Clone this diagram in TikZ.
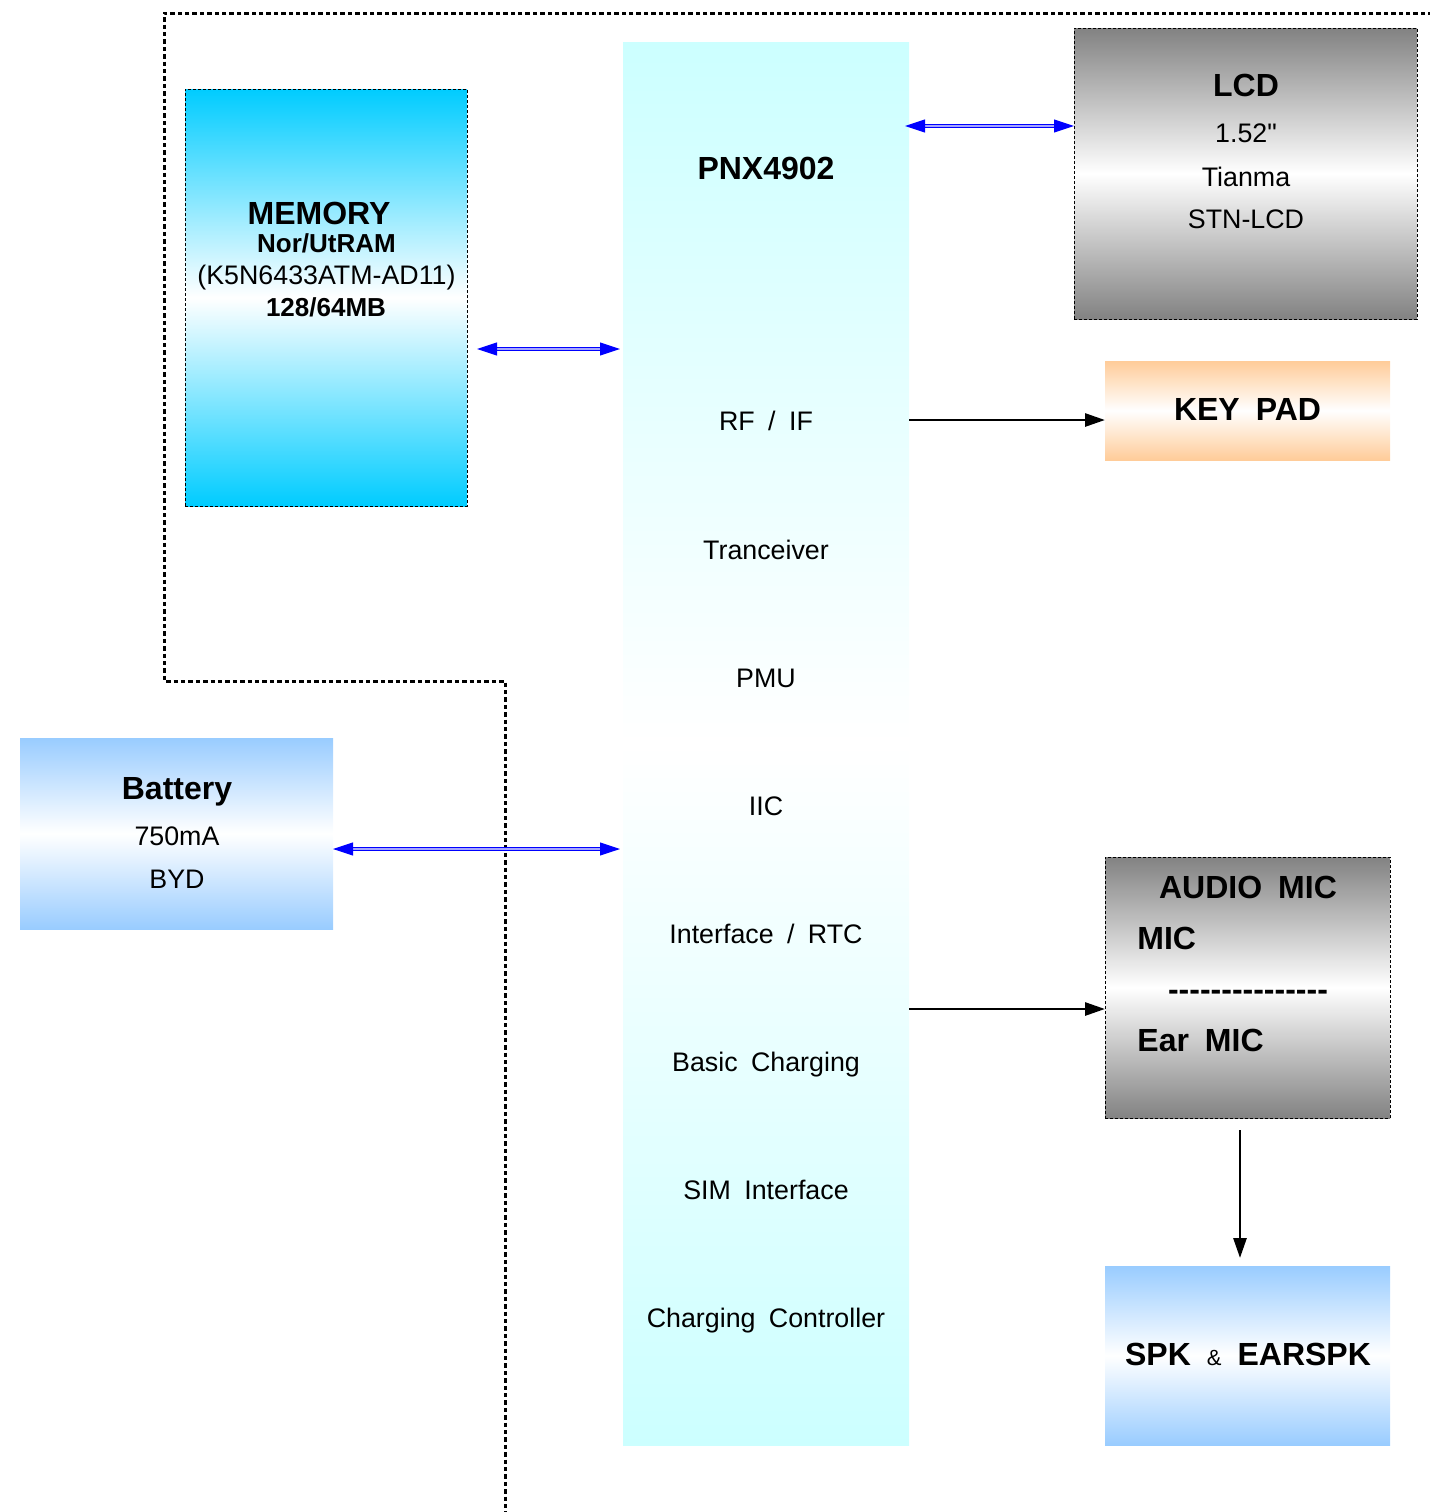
\documentclass[tikz,border=0pt]{standalone}
\usepackage{fontspec}
\setmainfont{Liberation Sans}
\newfontfamily\plainfont{Liberation Sans}
\usetikzlibrary{arrows.meta}
\definecolor{memc}{RGB}{0,204,255}
\definecolor{pnxc}{RGB}{204,255,255}
\definecolor{grayc}{RGB}{130,130,130}
\definecolor{keyc}{RGB}{255,204,153}
\definecolor{batc}{RGB}{153,204,255}
\newcommand{\gap}{\hspace{0.5em}}
\begin{document}
\begin{tikzpicture}[x=0.5pt,y=-0.5pt,
  box/.style={inner sep=0pt, outer sep=0pt, shading=axis},
  dbox/.style={draw=black, line width=0.4pt, dash pattern=on 1.5pt off 1pt},
  t/.style={inner sep=0pt, anchor=base, font=\fontsize{13.4}{15}\selectfont},
  tb/.style={inner sep=0pt, anchor=base, font=\fontsize{16}{19}\selectfont\bfseries},
  tbs/.style={inner sep=0pt, anchor=base, font=\fontsize{13}{15}\selectfont\bfseries},
  barrow/.style={draw=blue, line width=0.5pt, double=blue!35, double distance=0.8pt,
    {Triangle[length=10pt,width=6.5pt,fill=blue,color=blue]}-{Triangle[length=10pt,width=6.5pt,fill=blue,color=blue]}},
  karrow/.style={draw=black, line width=1.4pt, -{Triangle[length=10pt,width=6.5pt]}},
  frame/.style={draw=black, line width=1.5pt, dash pattern=on 2.2pt off 1.5pt}
]
\useasboundingbox (0,0) rectangle (1430,1512);

% dotted outline
\coordinate (f1) at (1440,13);
\coordinate (f2) at (164,13);
\coordinate (f3) at (164,681);
\coordinate (f4) at (505,681);
\coordinate (f5) at (505,1520);
\draw[frame] (f1) -- (f2) -- (f3) -- (f4) -- (f5);

% boxes
\node[box, dbox, minimum width=141pt, minimum height=208.5pt,
  top color=memc, bottom color=memc, middle color=white] (mem) at (326,297.5) {};
\node[box, minimum width=143pt, minimum height=701.5pt,
  top color=pnxc, bottom color=pnxc, middle color=white] (pnx) at (766,743.5) {};
\node[box, dbox, minimum width=171.5pt, minimum height=145.5pt,
  top color=grayc, bottom color=grayc, middle color=white] (lcd) at (1245.5,173.5) {};
\node[box, minimum width=142.5pt, minimum height=49.5pt,
  top color=keyc, bottom color=keyc, middle color=white] (key) at (1247.5,410.5) {};
\node[box, minimum width=156.5pt, minimum height=95.5pt,
  top color=batc, bottom color=batc, middle color=white] (bat) at (176.5,833.5) {};
\node[box, dbox, minimum width=142.5pt, minimum height=130.5pt,
  top color=grayc, bottom color=grayc, middle color=white] (aud) at (1247.5,987.5) {};
\node[box, minimum width=142.5pt, minimum height=89.5pt,
  top color=batc, bottom color=batc, middle color=white] (spk) at (1247.5,1355.5) {};

% memory text
\node[tb] (memt1) at (319,224) {MEMORY};
\node[tbs] (memt2) at (326.5,252) {Nor/UtRAM};
\node[t] (memt3) at (326.5,284) {(K5N6433ATM-AD11)};
\node[tbs] (memt4) at (326,316) {128/64MB};

% pnx text
\node[tb] (pnxt0) at (766,179) {PNX4902};
\node[t] (pnxt1) at (766,430) {RF\gap/\gap IF};
\node[t] (pnxt2) at (766,559) {Tranceiver};
\node[t] (pnxt3) at (766,687) {PMU};
\node[t] (pnxt4) at (766,815) {IIC};
\node[t] (pnxt5) at (766,943) {Interface\gap/\gap RTC};
\node[t] (pnxt6) at (766,1071) {Basic\gap Charging};
\node[t] (pnxt7) at (766,1199) {SIM\gap Interface};
\node[t] (pnxt8) at (766,1327) {Charging\gap Controller};

% lcd text
\node[tb] (lcdt1) at (1246,96) {LCD};
\node[t] (lcdt2) at (1246,142) {{\plainfont 1.52"}};
\node[t] (lcdt3) at (1246,186) {Tianma};
\node[t] (lcdt4) at (1246,228) {STN-LCD};

% keypad
\node[tb] (keyt) at (1247.5,420) {KEY\gap PAD};

% battery
\node[tb] (batt1) at (177,799) {Battery};
\node[t] (batt2) at (177,845) {750mA};
\node[t] (batt3) at (177,888) {BYD};

% audio
\node[tb] (audt1) at (1248,898) {AUDIO\gap MIC};
\node[tb, anchor=base west] (audt2) at (1137,949) {MIC};
\node[tb] (audt3) at (1248,1000) {-{}-{}-{}-{}-{}-{}-{}-{}-{}-{}-{}-{}-{}-{}-};
\node[tb, anchor=base west] (audt4) at (1137,1051) {Ear\gap MIC};

% spk
\node[tb] (spkt) at (1248,1365) {SPK\gap{\fontsize{11}{13}\selectfont\mdseries \&}\gap EARSPK};

% connectors
\draw[barrow, shorten <=-2pt] (pnx.east |- 0,126) -- (lcd.west |- 0,126);
\draw[barrow, shorten <=5pt, shorten >=1.5pt] (mem.east |- 0,349) -- (pnx.west |- 0,349);
\draw[karrow] (pnx.east |- 0,420) -- (key.west |- 0,420);
\draw[barrow, shorten >=1.5pt] (bat.east |- 0,849) -- (pnx.west |- 0,849);
\draw[karrow] (pnx.east |- 0,1009) -- (aud.west |- 0,1009);
\draw[karrow, shorten <=6pt, shorten >=4pt] (aud.south -| 1240,0) -- (spk.north -| 1240,0);
\end{tikzpicture}
\end{document}
